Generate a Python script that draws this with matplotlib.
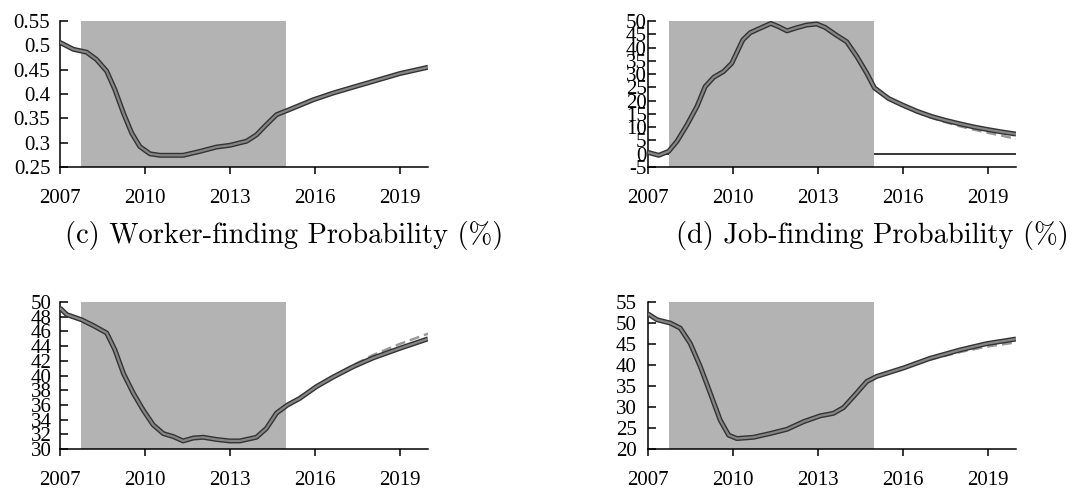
import numpy as np
import matplotlib
matplotlib.use('Agg')
import matplotlib.pyplot as plt

plt.rcParams['font.family'] = 'Liberation Serif'
plt.rcParams['axes.unicode_minus'] = False

# panel A (top left)
yr_a = [2007.0, 2007.47, 2007.94, 2008.29, 2008.65, 2008.94, 2009.24, 2009.53, 2009.82,
        2010.18, 2010.53, 2011.35, 2011.94, 2012.53, 2013.0, 2013.59, 2013.94, 2014.29,
        2014.65, 2015.04, 2015.94, 2016.65, 2017.35, 2018.06, 2019.0, 2020.0]
val_a = [0.506, 0.492, 0.486, 0.471, 0.447, 0.409, 0.361, 0.320, 0.292,
         0.277, 0.274, 0.274, 0.282, 0.291, 0.2945, 0.303, 0.316, 0.337,
         0.3575, 0.3665, 0.388, 0.402, 0.414, 0.426, 0.442, 0.455]
alt_a = [0.506, 0.492, 0.486, 0.471, 0.447, 0.409, 0.361, 0.320, 0.292,
         0.277, 0.274, 0.274, 0.282, 0.291, 0.2945, 0.303, 0.316, 0.337,
         0.3575, 0.3665, 0.388, 0.402, 0.414, 0.426, 0.441, 0.454]

# panel B (top right)
yr_b = [2007.0, 2007.38, 2007.73, 2008.02, 2008.38, 2008.73, 2009.02, 2009.32, 2009.67,
        2009.96, 2010.35, 2010.61, 2010.96, 2011.34, 2011.61, 2011.91, 2012.26, 2012.61,
        2012.96, 2013.26, 2013.61, 2014.02, 2014.38, 2014.73, 2015.0, 2015.5, 2016.0,
        2016.5, 2017.0, 2017.5, 2018.0, 2018.5, 2019.0, 2019.5, 2020.0]
val_b = [0.5, -0.6, 0.9, 4.6, 10.9, 17.8, 25.3, 28.8, 31.0,
         34.1, 42.9, 45.6, 47.3, 49.1, 47.9, 46.3, 47.5, 48.5,
         48.9, 47.6, 45.0, 42.2, 36.6, 30.3, 24.8, 20.8, 18.3,
         16.0, 14.1, 12.6, 11.3, 10.1, 9.1, 8.2, 7.4]
alt_b = [0.5, -0.6, 0.9, 4.6, 10.9, 17.8, 25.3, 28.8, 31.0,
         34.1, 42.9, 45.6, 47.3, 49.1, 47.9, 46.3, 47.5, 48.5,
         48.9, 47.6, 45.0, 42.2, 36.6, 30.3, 24.8, 20.8, 18.1,
         15.6, 13.6, 11.9, 10.4, 9.1, 7.9, 6.8, 5.6]

# panel C (bottom left)
yr_c = [2007.0, 2007.24, 2007.76, 2008.18, 2008.65, 2008.94, 2009.24, 2009.59, 2009.94,
        2010.29, 2010.65, 2011.0, 2011.35, 2011.71, 2012.06, 2012.53, 2013.0, 2013.35,
        2013.94, 2014.29, 2014.65, 2015.04, 2015.47, 2016.06, 2016.65, 2017.35, 2018.06,
        2019.0, 2020.0]
val_c = [49.2, 48.3, 47.6, 46.8, 45.8, 43.5, 40.3, 37.6, 35.3,
         33.3, 32.1, 31.7, 31.1, 31.5, 31.6, 31.3, 31.1, 31.1,
         31.6, 32.8, 34.9, 36.0, 36.9, 38.5, 39.8, 41.2, 42.4,
         43.7, 45.0]
alt_c = [49.2, 48.3, 47.6, 46.8, 45.8, 43.5, 40.3, 37.6, 35.3,
         33.3, 32.1, 31.7, 31.1, 31.5, 31.6, 31.3, 31.1, 31.1,
         31.6, 32.8, 34.9, 36.0, 36.9, 38.5, 39.9, 41.4, 42.8,
         44.3, 45.7]

# panel D (bottom right)
yr_d = [2007.0, 2007.32, 2007.79, 2008.14, 2008.49, 2008.85, 2009.2, 2009.55, 2009.85,
        2010.14, 2010.73, 2011.32, 2011.91, 2012.49, 2013.08, 2013.55, 2013.91, 2014.26,
        2014.73, 2015.08, 2016.02, 2016.96, 2018.02, 2018.96, 2020.0]
val_d = [52.2, 50.8, 50.0, 48.8, 45.2, 39.6, 33.3, 26.9, 23.3,
         22.5, 22.8, 23.7, 24.7, 26.5, 27.9, 28.5, 29.9, 32.5,
         36.1, 37.3, 39.3, 41.6, 43.6, 45.1, 46.2]
alt_d = [52.2, 50.8, 50.0, 48.8, 45.2, 39.6, 33.3, 26.9, 23.3,
         22.5, 22.8, 23.7, 24.7, 26.5, 27.9, 28.5, 29.9, 32.5,
         36.1, 37.3, 39.2, 41.3, 43.1, 44.4, 45.4]

xticks = [2007, 2010, 2013, 2016, 2019]
shade = (2007.75, 2015.0)

fig = plt.figure(figsize=(10.73, 4.93), dpi=100)

panels = [
    ([0.0559, 0.6613, 0.343, 0.296], yr_a, val_a, alt_a, (0.25, 0.55), np.arange(0.25, 0.551, 0.05), ['0.25', '0.3', '0.35', '0.4', '0.45', '0.5', '0.55'], 7),
    ([0.6039, 0.6613, 0.343, 0.296], yr_b, val_b, alt_b, (-5, 50), np.arange(-5, 51, 5), None, 1),
    ([0.0559, 0.0892, 0.343, 0.298], yr_c, val_c, alt_c, (30, 50), np.arange(30, 51, 2), None, 6),
    ([0.6039, 0.0892, 0.343, 0.298], yr_d, val_d, alt_d, (20, 55), np.arange(20, 56, 5), None, 8),
]

for i, (rect, x, y, y2, ylim, yt, ylab, ypad) in enumerate(panels):
    ax = fig.add_axes(rect)
    ax.axvspan(shade[0], shade[1], color='#b3b3b3', lw=0, zorder=1)
    if i == 1:
        ax.axhline(0, color='black', lw=1.1, zorder=0.5)
    ax.plot(x, y2, color='#999999', lw=1.8, ls=(0, (4, 2)), zorder=2)
    ax.plot(x, y, color='#333333', lw=3.6, zorder=3, solid_capstyle='butt')
    ax.plot(x, y, color='#858585', lw=1.6, zorder=4, solid_capstyle='butt')
    ax.set_xlim(2007, 2020)
    ax.set_ylim(*ylim)
    ax.set_xticks(xticks)
    ax.set_yticks(yt)
    if ylab is not None:
        ax.set_yticklabels(ylab)
    for s in ['top', 'right']:
        ax.spines[s].set_visible(False)
    for s in ['left', 'bottom']:
        ax.spines[s].set_linewidth(1.1)
    ax.tick_params(axis='x', direction='out', length=5, width=1.1, pad=11, labelsize=15)
    ax.tick_params(axis='y', direction='in', length=6, width=1.1, pad=ypad, labelsize=15)

fig.text(0.265, 0.523, '(c) Worker-finding Probability (%)', family='cmr10',
         fontsize=20.5, ha='center', va='center')
fig.text(0.8127, 0.523, '(d) Job-finding Probability (%)', family='cmr10',
         fontsize=20.5, ha='center', va='center')

fig.savefig('out.png', dpi=100)
